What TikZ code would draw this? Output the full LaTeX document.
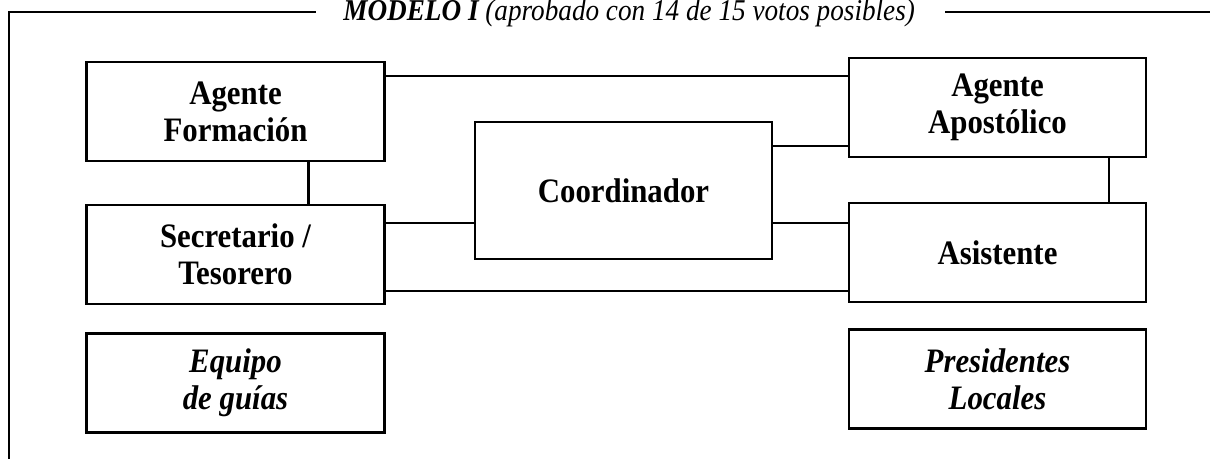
\documentclass[tikz,border=0pt]{standalone}
\usepackage{fontspec}
\setmainfont{Liberation Serif}[FakeStretch=0.9]
\tikzset{box/.style={rectangle,draw,line width=1.2pt,minimum width=5.96cm,minimum height=1.98cm,align=center,font=\bfseries\fontsize{19.5}{21}\selectfont}}
\tikzset{link/.style={line width=1.2pt}}

\begin{document}
\begin{tikzpicture}[x=0.02cm,y=-0.02cm]
      \useasboundingbox (0,0) rectangle (1210,459);
      % frame and title
      \draw[line width=1.1pt] (9,460) -- (9,12) -- (316,12);
      \draw[line width=1.1pt] (945,12) -- (1212,12);
      \node[anchor=base west,inner sep=0pt,font=\itshape\fontsize{17.2}{20}\selectfont] (title) at (343,21) {\textbf{MODELO I} (aprobado con 14 de 15 votos posibles)};

      \node[box] (form) at (235.5,111.5) {Agente\\Formación};
      \node[box] (secr) at (235.5,254.5) {Secretario /\\Tesorero};
      \node[box,font=\bfseries\itshape\fontsize{19.5}{21}\selectfont] (equipo) at (235.5,383) {Equipo\\de guías};
      \node[box,minimum width=5.94cm,minimum height=2.74cm] (coord) at (623.5,190.5) {Coordinador};
      \node[box,minimum width=5.94cm] (apost) at (997.5,107.5) {Agente\\Apostólico};
      \node[box,minimum width=5.94cm] (asist) at (997.5,252.5) {Asistente};
      \node[box,minimum width=5.94cm,font=\bfseries\itshape\fontsize{19.5}{21}\selectfont] (pres) at (997.5,379) {Presidentes\\Locales};

      \draw[link] ([yshift=-0.3cm]form.north east) -- ([yshift=-0.3cm]form.north east -| apost.west);
      \draw[link] ([yshift=-0.5cm]coord.north east) -- ([yshift=-0.5cm]coord.north east -| apost.west);
      \draw[link] ([yshift=0.74cm]coord.south west) -- ([yshift=0.74cm]coord.south west -| secr.east);
      \draw[link] ([yshift=0.74cm]coord.south east) -- ([yshift=0.74cm]coord.south east -| asist.west);
      \draw[link] ([yshift=0.28cm]secr.south east) -- ([yshift=0.28cm]secr.south east -| asist.west);
      \draw[link] ([xshift=-1.54cm]form.south east) -- ([xshift=-1.54cm]secr.north east);
      \draw[link] ([xshift=-0.76cm]apost.south east) -- ([xshift=-0.76cm]asist.north east);
    \end{tikzpicture}
\end{document}
